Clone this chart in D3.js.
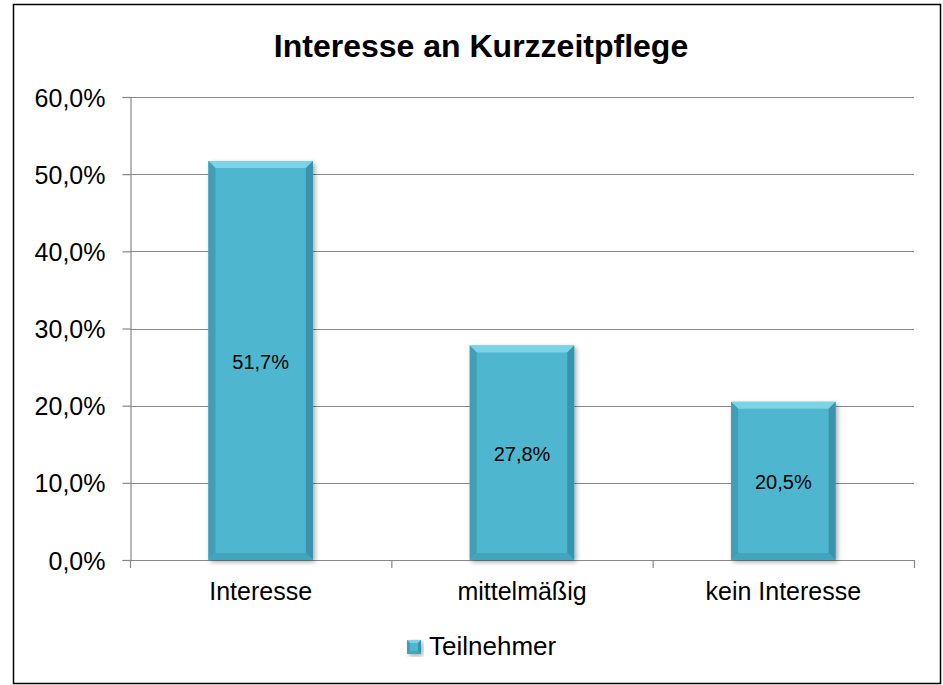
<!DOCTYPE html>
<html>
<head>
<meta charset="utf-8">
<script src="https://cdn.jsdelivr.net/npm/d3@7"></script>
<style>
  body { margin: 0; background: #fff; }
  svg { font-family: "Liberation Sans", Arial, sans-serif; }
</style>
</head>
<body>
<div id="chart"></div>
<script>
const categories = ["Interesse", "mittelmäßig", "kein Interesse"];
const values = [51.7, 27.8, 20.5];
const yTicks = [0, 10, 20, 30, 40, 50, 60];
const seriesName = "Teilnehmer";
const title = "Interesse an Kurzzeitpflege";

const width = 943;
const height = 685;
const plot = { left: 130, right: 914, top: 97, bottom: 560 };

const fmt = v => v.toFixed(1).replace(".", ",") + "%";

const svg = d3.select("#chart")
    .append("svg")
    .attr("width", width)
    .attr("height", height);

const defs = svg.append("defs");
const shadow = defs.append("filter").attr("id", "shadow")
    .attr("x", "-20%").attr("y", "-20%").attr("width", "140%").attr("height", "140%");
shadow.append("feGaussianBlur").attr("in", "SourceAlpha").attr("stdDeviation", 2.5);
shadow.append("feOffset").attr("dx", 2).attr("dy", 2).attr("result", "b");
shadow.append("feComponentTransfer").append("feFuncA").attr("type", "linear").attr("slope", 0.35);
const merge = shadow.append("feMerge");
merge.append("feMergeNode");
merge.append("feMergeNode").attr("in", "SourceGraphic");

// outer frame
svg.append("rect")
    .attr("x", 13.5).attr("y", 4.5)
    .attr("width", 927).attr("height", 679)
    .attr("fill", "#fff")
    .attr("stroke", "#000")
    .attr("stroke-width", 1.5);

const x = d3.scaleBand()
    .domain(categories)
    .range([plot.left, plot.right])
    .paddingInner(0.6)
    .paddingOuter(0.3);

const y = d3.scaleLinear()
    .domain([0, 60])
    .range([plot.bottom, plot.top]);

// gridlines
svg.append("g")
    .selectAll("line")
    .data(yTicks.filter(d => d > 0))
    .enter()
    .append("line")
    .attr("x1", plot.left).attr("x2", plot.right)
    .attr("y1", d => Math.round(y(d)) + 0.5)
    .attr("y2", d => Math.round(y(d)) + 0.5)
    .attr("stroke", "#888")
    .attr("stroke-width", 1.2);

// y axis
const yAxis = svg.append("g")
    .attr("transform", `translate(${plot.left + 0.5},0)`)
    .call(d3.axisLeft(y).tickValues(yTicks).tickFormat(fmt).tickSize(8).tickPadding(17));
yAxis.selectAll("path, line").attr("stroke", "#888").attr("stroke-width", 1.2);
yAxis.selectAll("text")
    .attr("font-size", "25px")
    .attr("fill", "#000")
    .attr("dy", "0.36em")
    .attr("font-family", "Liberation Sans, Arial, sans-serif");

// x axis
const step = (plot.right - plot.left) / categories.length;
const xg = svg.append("g");
xg.append("line")
    .attr("x1", plot.left).attr("x2", plot.right)
    .attr("y1", plot.bottom + 0.5).attr("y2", plot.bottom + 0.5)
    .attr("stroke", "#888").attr("stroke-width", 1.2);
xg.selectAll("line.tick")
    .data(d3.range(categories.length + 1))
    .enter()
    .append("line")
    .attr("class", "tick")
    .attr("x1", i => plot.left + i * step + 0.5)
    .attr("x2", i => plot.left + i * step + 0.5)
    .attr("y1", plot.bottom)
    .attr("y2", plot.bottom + 8)
    .attr("stroke", "#888").attr("stroke-width", 1.2);
xg.selectAll("text")
    .data(categories)
    .enter()
    .append("text")
    .attr("x", d => x(d) + x.bandwidth() / 2)
    .attr("y", plot.bottom + 40)
    .attr("text-anchor", "middle")
    .attr("font-size", "25px")
    .text(d => d);

// bevelled bars
function bevelBar(g, bx, by, bw, bh, b) {
    g.append("rect")
        .attr("x", bx).attr("y", by).attr("width", bw).attr("height", bh)
        .attr("fill", "#4fb6cf")
        .attr("filter", "url(#shadow)");
    const pts = a => a.map(p => p.join(",")).join(" ");
    g.append("polygon").attr("points", pts([[bx, by], [bx + bw, by], [bx + bw - b, by + b], [bx + b, by + b]]))
        .attr("fill", "#7ad3e6");
    g.append("polygon").attr("points", pts([[bx, by], [bx + b, by + b], [bx + b, by + bh - b], [bx, by + bh]]))
        .attr("fill", "#3f9fb8");
    g.append("polygon").attr("points", pts([[bx + bw, by], [bx + bw, by + bh], [bx + bw - b, by + bh - b], [bx + bw - b, by + b]]))
        .attr("fill", "#3a93ab");
    g.append("polygon").attr("points", pts([[bx, by + bh], [bx + b, by + bh - b], [bx + bw - b, by + bh - b], [bx + bw, by + bh]]))
        .attr("fill", "#42a4bd");
}

const bars = svg.append("g");
categories.forEach((c, i) => {
    const g = bars.append("g");
    bevelBar(g, x(c), y(values[i]), x.bandwidth(), y(0) - y(values[i]), 7);
});

// data labels
svg.append("g")
    .selectAll("text")
    .data(values)
    .enter()
    .append("text")
    .attr("x", (d, i) => x(categories[i]) + x.bandwidth() / 2)
    .attr("y", d => (y(d) + y(0)) / 2 + 8)
    .attr("text-anchor", "middle")
    .attr("font-size", "20px")
    .text(d => fmt(d));

// title
svg.append("text")
    .attr("x", 481)
    .attr("y", 57)
    .attr("text-anchor", "middle")
    .attr("font-size", "32px")
    .attr("font-weight", "bold")
    .text(title);

// legend
const lg = svg.append("g");
bevelBar(lg, 407, 640, 14, 14, 3);
lg.append("text")
    .attr("x", 429)
    .attr("y", 655)
    .attr("font-size", "26px")
    .text(seriesName);
</script>
</body>
</html>
